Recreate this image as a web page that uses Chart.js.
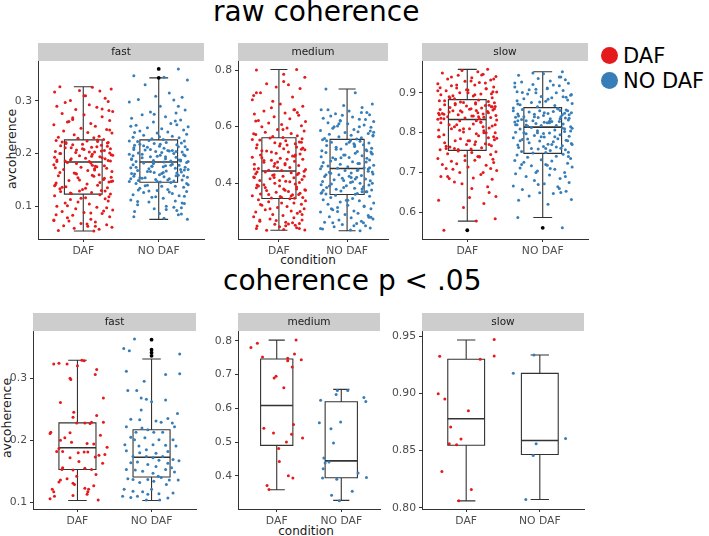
<!DOCTYPE html>
<html>
<head>
<meta charset="utf-8">
<script src="https://cdn.jsdelivr.net/npm/chart.js@4.4.0/dist/chart.umd.min.js"></script>
<style>
  body { margin: 0; background: #fff; font-family: "DejaVu Sans", sans-serif; }
  #page { position: relative; width: 709px; height: 536px; overflow: hidden; }
  canvas { position: absolute; }
  .title { position: absolute; font-size: 28px; line-height: 28px; color: #000; white-space: nowrap; }
  .ytitle { position: absolute; font-size: 12.5px; line-height: 12px; color: #1a1a1a; white-space: nowrap;
            transform: translate(-50%, -50%) rotate(-90deg); }
  .xtitle { position: absolute; font-size: 12px; line-height: 12px; color: #1a1a1a; white-space: nowrap;
            transform: translate(-50%, -50%); }
  .leg { position: absolute; font-size: 21px; line-height: 21px; color: #000; white-space: nowrap; }
  .dot { position: absolute; width: 17px; height: 17px; border-radius: 50%; }
</style>
</head>
<body>
<div id="page">
  <div class="title" style="left:213px;top:-2px">raw coherence</div>
  <div class="title" style="left:223px;top:267px">coherence p &lt; .05</div>
  <div class="ytitle" style="left:12px;top:149px">avcoherence</div>
  <div class="ytitle" style="left:7px;top:418px">avcoherence</div>
  <div class="xtitle" style="left:308px;top:260px">condition</div>
  <div class="xtitle" style="left:306px;top:531px">condition</div>
  <div class="dot" style="left:601px;top:47px;background:#e41a1c"></div>
  <div class="leg" style="left:623px;top:46px">DAF</div>
  <div class="dot" style="left:601px;top:72px;background:#377eb8"></div>
  <div class="leg" style="left:623px;top:71px">NO DAF</div>
</div>
<script>
const conditions = ['DAF', 'NO DAF'];
const facets = ['fast', 'medium', 'slow'];
const colors = ['#e41a1c', '#377eb8'];

// jitter offsets (category units) for the dense top-row clouds
const jitterA = [-.31,.12,.37,-.05,.22,-.38,.03,.29,-.17,.33,-.24,.08,-.35,.18,-.1,.39,-.28,.01,.25,-.14,
  .35,-.21,.1,-.39,.16,-.03,.31,-.26,.06,.38,-.12,.21,-.33,.14,-.07,.27,-.19,.34,-.36,.05,
  .19,-.23,.32,-.01,.24,-.3,.11,-.16,.36,-.09,.28,-.37,.15];
const jitterB = [.26,-.33,.07,.38,-.18,.14,-.04,.31,-.27,.2,-.39,.02,.35,-.11,.23,-.22,.09,-.36,.29,-.07,
  .16,-.3,.39,-.15,.04,.33,-.25,.12,-.02,.37,-.2,.18,-.34,.27,-.09,.06,-.37,.22,-.13,.34,
  -.28,.1,.3,-.06,.24,-.32,.01];

// ---- raw coherence ----
const rawFastDaf = [.327,.326,.323,.32,.319,.317,.31,.305,.301,.299,.297,.293,.29,.288,.284,.28,.276,.274,.27,.268,
  .263,.26,.257,.255,.252,.248,.246,.243,.24,.239,.236,.233,.231,.23,.229,.227,.261,.282,
  .225,.224,.223,.221,.22,.218,.216,.215,.212,.211,.209,.207,.206,.204,.203,.2,.199,.198,.196,.194,
  .193,.191,.19,.188,.187,.186,.185,.185,.213,.202,.197,.222,.208,.192,.217,.201,
  .183,.182,.179,.176,.174,.172,.17,.168,.166,.163,.16,.158,.157,.154,.151,.149,.146,.144,.142,.14,
  .137,.135,.132,.13,.128,.126,.124,.123,.161,.153,.141,.171,.133,.178,.147,.129,
  .122,.12,.116,.114,.113,.11,.106,.104,.1,.098,.095,.093,.09,.088,.086,.083,.08,.078,.075,.073,
  .07,.067,.065,.063,.062,.06,.058,.056,.054,.053,.108,.091,.072,.118,.084,.066,
  .226,.219,.214,.209,.205,.2,.195,.19,.186,.181,.177,.173,.169,.164,.159,.155,.15,.145,.139,.134,
  .129,.125,.221,.211,.203,.188,.175,.162,.148,.136,.31,.285,.265,.245,.101,.087,.074,.062,.115,.097];
const rawFastNo = [.361,.348,.345,.34,.331,.315,.309,.307,.303,.302,.298,.29,.283,.279,.277,.274,.27,.267,.264,.26,
  .257,.254,.251,.249,.247,.245,.243,.241,.239,.237,.235,.233,.231,.23,.228,.227,.252,.262,
  .225,.224,.223,.221,.22,.219,.217,.216,.214,.213,.211,.21,.208,.207,.205,.204,.203,.201,.2,.199,
  .197,.196,.194,.193,.192,.19,.189,.188,.187,.186,.185,.185,.212,.202,.198,.218,.206,.195,
  .183,.182,.18,.179,.178,.176,.175,.173,.172,.171,.169,.168,.167,.165,.164,.163,.161,.16,.159,.157,
  .156,.155,.154,.152,.151,.15,.149,.148,.147,.146,.174,.166,.158,.153,.177,.162,.17,.181,
  .145,.143,.141,.14,.138,.136,.134,.132,.13,.128,.126,.124,.122,.12,.117,.115,.112,.11,.108,.105,
  .103,.1,.097,.095,.092,.09,.086,.084,.08,.077,.075,.139,.127,.118,.106,.131,.098,
  .224,.218,.213,.208,.204,.199,.194,.19,.186,.182,.178,.174,.17,.166,.162,.158,.154,.15,.147,.143,
  .215,.206,.196,.188,.176,.164,.152,.138,.129,.119,.109,.094,.085,.275,.255,.24,.232,.29,.208,.184];
const rawMedDaf = [.802,.8,.785,.775,.752,.748,.74,.735,.72,.705,.695,.68,.672,.667,.66,.655,.648,.645,.64,.635,
  .628,.622,.618,.613,.608,.603,.6,.595,.59,.585,.58,.576,.572,.568,.565,.562,.71,.66,
  .56,.557,.553,.55,.546,.543,.54,.536,.532,.528,.525,.522,.518,.514,.51,.506,.503,.5,.496,.492,
  .488,.485,.481,.478,.474,.47,.467,.463,.46,.456,.452,.449,.446,.445,.52,.49,.535,.475,
  .442,.44,.437,.434,.431,.428,.425,.422,.419,.416,.413,.41,.407,.403,.4,.397,.394,.39,.387,.384,
  .38,.377,.374,.371,.368,.365,.362,.359,.356,.353,.35,.348,.347,.395,.375,.42,.36,.43,
  .345,.342,.338,.335,.33,.326,.322,.318,.314,.31,.306,.302,.298,.294,.29,.286,.282,.278,.274,.27,
  .266,.262,.258,.255,.252,.249,.246,.243,.24,.237,.235,.234,.256,.268,.3,.325,.26,
  .555,.54,.525,.51,.495,.48,.465,.45,.435,.42,.405,.39,.375,.36,.35,.545,.515,.485,.455,.425,
  .385,.355,.62,.65,.69,.59,.575,.33,.31,.29,.27,.25,.24,.47,.5,.44,.41,.38,.72,.76];
const rawMedNo = [.733,.72,.68,.675,.668,.66,.655,.65,.646,.642,.638,.634,.63,.626,.622,.618,.614,.61,.606,.602,
  .598,.594,.59,.586,.582,.579,.576,.573,.57,.567,.564,.561,.558,.556,.64,.625,.6,.585,
  .554,.551,.548,.545,.542,.539,.536,.533,.53,.527,.524,.521,.518,.515,.512,.509,.506,.503,.5,.497,
  .494,.491,.488,.485,.482,.479,.476,.473,.47,.467,.464,.461,.458,.455,.453,.51,.49,.54,
  .451,.448,.445,.442,.439,.436,.433,.43,.427,.424,.421,.418,.415,.412,.409,.406,.403,.4,.397,.394,
  .391,.388,.385,.382,.379,.376,.373,.37,.367,.364,.362,.361,.44,.41,.38,.395,.425,.37,
  .358,.354,.35,.346,.342,.338,.334,.33,.326,.322,.318,.314,.31,.306,.302,.298,.294,.29,.286,.282,
  .278,.274,.27,.266,.262,.258,.254,.25,.246,.242,.238,.235,.232,.31,.28,.34,.26,
  .55,.535,.52,.505,.49,.475,.46,.445,.43,.415,.4,.385,.37,.365,.545,.515,.485,.455,.435,.405,
  .375,.6,.62,.58,.66,.34,.32,.3,.28,.26,.25,.24,.47,.5,.45,.39,.42,.57,.61,.65];
const rawSlowDaf = [.555,.578,.584,.612,.622,.63,.637,.65,.676,.683,.685,.686,.69,.695,.7,.705,.71,.714,.718,.722,
  .725,.728,.731,.735,.739,.742,.745,.747,.75,.752,.754,.7,.72,.74,.672,.664,.708,.733,
  .757,.759,.762,.764,.767,.77,.772,.775,.777,.78,.782,.785,.787,.79,.792,.795,.797,.8,.802,.805,
  .807,.81,.812,.815,.817,.82,.822,.825,.827,.83,.832,.76,.78,.8,.82,.79,.81,.77,
  .834,.835,.837,.838,.84,.842,.843,.845,.847,.848,.85,.852,.853,.855,.857,.858,.86,.862,.863,.865,
  .867,.868,.87,.872,.873,.875,.877,.878,.88,.882,.846,.856,.866,.876,.839,.849,.859,.869,
  .885,.888,.89,.892,.895,.897,.9,.902,.905,.907,.91,.912,.915,.918,.92,.923,.926,.929,.932,.935,
  .938,.941,.944,.947,.95,.953,.956,.959,.893,.903,.913,.93,.945,.887,.898,.908,.925,
  .88,.875,.87,.86,.855,.85,.845,.84,.835,.83,.82,.81,.8,.79,.78,.77,.76,.865,.852,.842,
  .836,.826,.806,.786,.766,.9,.91,.92,.935,.94,.895,.905,.74,.73,.71,.69,.66,.64,.758,.815];
const rawSlowNo = [.561,.587,.62,.632,.641,.647,.649,.653,.657,.664,.666,.672,.675,.68,.685,.69,.694,.697,.7,.704,
  .708,.711,.714,.717,.72,.723,.726,.729,.732,.735,.738,.741,.744,.746,.7,.718,.73,.66,
  .749,.751,.753,.755,.757,.759,.761,.763,.765,.767,.769,.771,.773,.775,.777,.779,.781,.783,.785,.787,
  .789,.791,.793,.795,.797,.799,.801,.803,.805,.807,.809,.811,.813,.76,.78,.8,.77,.79,
  .815,.817,.818,.82,.822,.823,.825,.827,.828,.83,.832,.833,.835,.837,.838,.84,.842,.843,.845,.847,
  .848,.85,.852,.853,.855,.857,.858,.86,.862,.826,.836,.846,.856,.819,.829,.839,.849,
  .865,.868,.87,.873,.876,.879,.882,.885,.888,.891,.894,.897,.9,.903,.906,.909,.912,.915,.918,.921,
  .924,.927,.93,.933,.936,.94,.944,.948,.953,.872,.884,.896,.908,.92,.877,.889,.901,
  .86,.855,.85,.845,.84,.835,.83,.825,.82,.81,.8,.79,.78,.77,.76,.75,.855,.84,.828,.818,
  .804,.784,.764,.88,.89,.9,.91,.925,.94,.95,.74,.72,.71,.69,.67,.65,.63,.798,.812,.83];

// box stats: [lower whisker, Q1, median, Q3, upper whisker]
const rawFastBox = [[.053,.123,.184,.226,.327], [.075,.1455,.184,.226,.344]];
const rawMedBox = [[.234,.346,.4435,.561,.802], [.232,.36,.452,.555,.733]];
const rawSlowBox = [[.578,.7555,.833,.883,.959], [.587,.748,.814,.863,.953]];
const rawFastOut = [[], [.361,.344]];
const rawMedOut = [[], []];
const rawSlowOut = [[.555], [.561]];

// ---- coherence p < .05 ----
const sigFastDaf = [.323,.324,.323,.329,.328,.32,.314,.306,.3,.298,.268,.261,.245,.237,.24,.229,.228,.227,.229,.228,
  .213,.211,.212,.204,.208,.2,.197,.195,.194,.189,.187,.182,.182,.181,.181,.18,.177,.176,.173,.163,
  .172,.166,.156,.153,.155,.153,.152,.142,.145,.138,.136,.133,.131,.129,.121,.117,.123,.121,.117,.127,
  .106,.11,.113,.104,.111];
const sigFastDafX = [-.32,-.25,-.14,.06,.09,0,.26,.24,-.1,-.09,.35,-.23,-.05,-.06,.26,.35,.1,.17,.19,-.01,
  -.36,-.37,-.1,-.17,.31,-.23,-.08,.13,.22,.4,-.25,-.28,-.2,.14,.09,.01,.37,.29,.24,.34,
  -.1,.02,-.2,-.21,.1,.19,-.06,-.01,.25,-.14,-.23,-.25,-.06,-.04,-.34,-.32,.1,.15,.14,.22,
  -.37,-.31,.13,.28,-.06];
const sigFastNo = [.363,.348,.344,.339,.311,.306,.307,.295,.28,.28,.268,.266,.265,.262,.249,.243,.234,.233,.231,.229,
  .235,.228,.222,.222,.22,.217,.213,.213,.213,.201,.205,.201,.204,.201,.193,.191,.193,.192,.191,.185,
  .183,.179,.182,.18,.174,.174,.174,.172,.168,.169,.167,.164,.165,.161,.158,.163,.156,.153,.152,.15,
  .153,.149,.147,.142,.138,.137,.137,.134,.14,.136,.136,.132,.129,.121,.118,.117,.121,.114,.115,.11,
  .108,.11,.113,.104,.107,.104];
const sigFastNoX = [-.23,-.375,-.3,.38,-.34,.19,.38,-.1,-.32,-.2,-.14,-.07,.19,0,-.14,.35,-.28,-.16,.06,.13,
  .22,.28,.31,-.34,-.13,-.05,.03,.15,-.21,.29,-.28,-.23,-.09,.1,-.36,-.17,.02,.19,.33,-.07,
  -.34,.06,.22,-.16,-.25,.15,-.07,.02,.1,.29,.37,-.28,-.19,-.05,.06,.22,.27,-.34,-.22,-.12,
  .19,.31,.02,.09,-.32,-.25,-.05,.03,.13,.24,.36,-.16,.2,-.37,-.25,-.12,0,.1,.29,-.39,
  -.28,-.19,-.05,.11,.22,-.07];
const sigMedDaf = [.78,.793,.752,.802,.761,.748,.741,.744,.722,.695,.69,.661,.541,.527,.552,.523,.5,.512,.481,.442,.4,.393,.371,.359];
const sigMedDafX = [-.4,-.3,-.22,.3,.275,.17,.17,.38,.24,-.01,-.04,.11,-.2,-.05,.26,.23,.15,.4,.03,.04,.18,.25,-.15,-.12];
const sigMedNo = [.624,.557,.539,.559,.497,.653,.653,.641,.632,.62,.453,.438,.441,.421,.393,.39,.408,.395,.354,.342,.326];
const sigMedNoX = [-.32,-.34,-.16,-.01,-.12,-.06,.1,-.08,.35,.38,-.27,-.25,-.19,-.28,-.29,-.07,.26,.39,.17,-.15,-.03];
const sigSlowDaf = [.9323,.947,.9325,.9297,.8995,.895,.8847,.8705,.86,.856,.855,.8317,.816,.806];
const sigSlowDafX = [-.36,.38,.38,.19,-.38,-.29,.03,-.21,-.07,-.23,-.13,-.33,.07,-.1];
const sigSlowNo = [.9334,.9175,.8605,.8558,.8456,.8073];
const sigSlowNoX = [-.08,-.36,.35,-.05,-.09,-.19];

const sigFastBox = [[.103,.153,.188,.228,.329], [.103,.141,.1727,.217,.331]];
const sigMedBox = [[.3586,.49,.608,.746,.802], [.327,.394,.444,.6195,.656]];
const sigSlowBox = [[.806,.8546,.8777,.9297,.9465], [.8072,.8465,.8587,.9174,.9334]];
const sigFastOut = [[], [.362,.346,.341,.336]];
const noOut = [[], []];

// axis limits and ticks
const rawFastRange = [.0377, .376], rawFastTicks = [.1, .2, .3];
const rawMedRange = [.203, .832], rawMedTicks = [.4, .6, .8];
const rawSlowRange = [.533, .98], rawSlowTicks = [.6, .7, .8, .9];
const sigFastRange = [.0894, .376], sigFastTicks = [.1, .2, .3];
const sigMedRange = [.3015, .829], sigMedTicks = [.4, .5, .6, .7, .8];
const sigSlowRange = [.7989, .9544], sigSlowTicks = [.8, .85, .9, .95];

const boxPlugin = {
  id: 'boxes',
  beforeDatasetsDraw(chart, args, opts) {
    const { ctx, scales: { x, y } } = chart;
    ctx.save();
    ctx.strokeStyle = '#333';
    opts.stats.forEach((s, i) => {
      const c = i + 1;
      const xl = x.getPixelForValue(c - 0.25), xr = x.getPixelForValue(c + 0.25);
      const cl = x.getPixelForValue(c - 0.125), cr = x.getPixelForValue(c + 0.125);
      const xc = x.getPixelForValue(c);
      const [lo, q1, md, q3, hi] = s.map(v => y.getPixelForValue(v));
      ctx.lineWidth = 1.1;
      ctx.beginPath();
      ctx.moveTo(xc, hi); ctx.lineTo(xc, q3);
      ctx.moveTo(xc, q1); ctx.lineTo(xc, lo);
      ctx.moveTo(cl, hi); ctx.lineTo(cr, hi);
      ctx.moveTo(cl, lo); ctx.lineTo(cr, lo);
      ctx.rect(xl, q3, xr - xl, q1 - q3);
      ctx.stroke();
      ctx.lineWidth = 1.6;
      ctx.beginPath();
      ctx.moveTo(xl, md); ctx.lineTo(xr, md);
      ctx.stroke();
    });
    ctx.restore();
  }
};

const stripPlugin = {
  id: 'strip',
  afterDraw(chart, args, opts) {
    const { ctx, chartArea: a } = chart;
    ctx.save();
    ctx.fillStyle = '#cdcdcd';
    ctx.fillRect(a.left, a.top - 18, a.right - a.left, 18);
    ctx.fillStyle = '#1a1a1a';
    ctx.font = '10.5px "DejaVu Sans"';
    ctx.textAlign = 'center';
    ctx.textBaseline = 'middle';
    ctx.fillText(opts.text, (a.left + a.right) / 2, a.top - 9);
    ctx.restore();
  }
};

function makePanel(geo, strip, range, ticks, dec, ys, dxs, boxes, outs) {
  const AX = 40, XH = 26, TOP = 20, RIGHT = 30;
  const cv = document.createElement('canvas');
  cv.width = AX + geo.w + RIGHT;
  cv.height = TOP + geo.h + XH;
  cv.style.left = (geo.l - AX) + 'px';
  cv.style.top = (geo.t - TOP) + 'px';
  document.getElementById('page').appendChild(cv);

  const datasets = [0, 1].map(g => ({
    data: ys[g].map((v, i) => ({ x: g + 1 + dxs[g][i % dxs[g].length], y: v })),
    backgroundColor: colors[g], borderWidth: 0, pointRadius: 1.5
  }));
  datasets.push({
    data: outs.flatMap((o, g) => o.map(v => ({ x: g + 1, y: v }))),
    backgroundColor: '#000', borderWidth: 0, pointRadius: 1.9
  });

  const tickFont = { family: 'DejaVu Sans', size: 10.8 };
  new Chart(cv, {
    type: 'scatter',
    data: { datasets },
    options: {
      responsive: false,
      animation: false,
      events: [],
      layout: { padding: { top: TOP, right: RIGHT, left: 0, bottom: 0 } },
      plugins: {
        legend: { display: false },
        tooltip: { enabled: false },
        boxes: { stats: boxes },
        strip: { text: strip }
      },
      scales: {
        x: {
          type: 'linear', min: 0.4, max: 2.6,
          afterBuildTicks: s => { s.ticks = [{ value: 1 }, { value: 2 }]; },
          afterFit: s => { s.height = XH; },
          ticks: { callback: v => conditions[v - 1], color: '#4d4d4d', font: tickFont, padding: 3, maxRotation: 0, autoSkip: false },
          grid: { drawOnChartArea: false, tickLength: 3, color: '#333' },
          border: { color: '#333', width: 1 }
        },
        y: {
          type: 'linear', min: range[0], max: range[1],
          afterBuildTicks: s => { s.ticks = ticks.map(v => ({ value: v })); },
          afterFit: s => { s.width = AX; },
          ticks: { callback: v => v.toFixed(dec), color: '#4d4d4d', font: tickFont, padding: 3 },
          grid: { drawOnChartArea: false, tickLength: 3, color: '#333' },
          border: { color: '#333', width: 1 }
        }
      }
    },
    plugins: [boxPlugin, stripPlugin]
  });
}

makePanel({ l: 38, t: 61, w: 166, h: 178 }, facets[0], rawFastRange, rawFastTicks, 1,
  [rawFastDaf, rawFastNo], [jitterA, jitterB], rawFastBox, rawFastOut);
makePanel({ l: 238, t: 61, w: 150, h: 178 }, facets[1], rawMedRange, rawMedTicks, 1,
  [rawMedDaf, rawMedNo], [jitterB, jitterA], rawMedBox, rawMedOut);
makePanel({ l: 422, t: 61, w: 166, h: 178 }, facets[2], rawSlowRange, rawSlowTicks, 1,
  [rawSlowDaf, rawSlowNo], [jitterA, jitterB], rawSlowBox, rawSlowOut);
makePanel({ l: 33, t: 331, w: 163, h: 178 }, facets[0], sigFastRange, sigFastTicks, 1,
  [sigFastDaf, sigFastNo], [sigFastDafX, sigFastNoX], sigFastBox, sigFastOut);
makePanel({ l: 238, t: 331, w: 142, h: 178 }, facets[1], sigMedRange, sigMedTicks, 1,
  [sigMedDaf, sigMedNo], [sigMedDafX, sigMedNoX], sigMedBox, noOut);
makePanel({ l: 422, t: 331, w: 162, h: 178 }, facets[2], sigSlowRange, sigSlowTicks, 2,
  [sigSlowDaf, sigSlowNo], [sigSlowDafX, sigSlowNoX], sigSlowBox, noOut);
</script>
</body>
</html>
